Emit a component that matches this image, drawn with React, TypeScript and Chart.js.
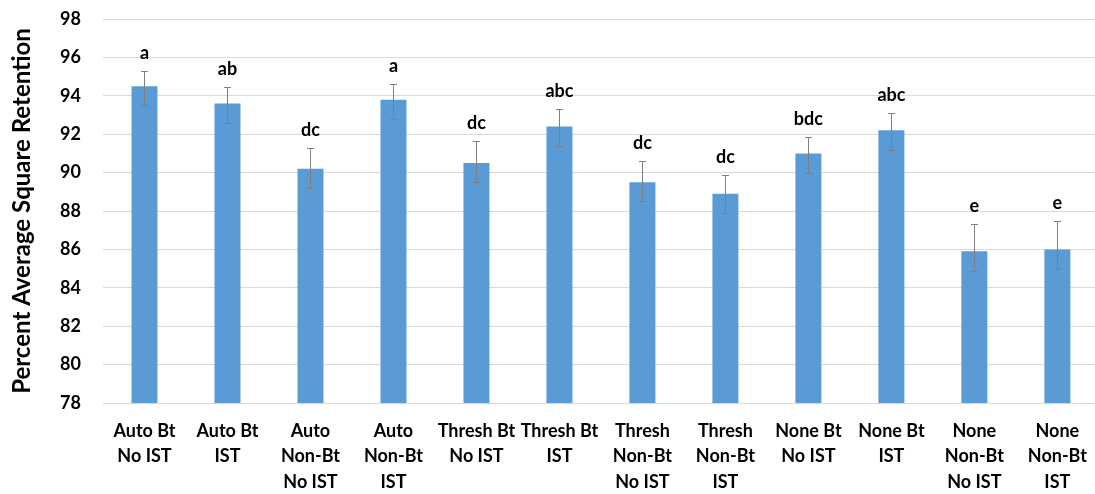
import React, { useEffect, useRef } from "react";
import { Chart, registerables } from "chart.js";

Chart.register(...registerables);

const categories: string[][] = [
  ["Auto Bt", "No IST"],
  ["Auto Bt", "IST"],
  ["Auto", "Non-Bt", "No IST"],
  ["Auto", "Non-Bt", "IST"],
  ["Thresh Bt", "No IST"],
  ["Thresh Bt", "IST"],
  ["Thresh", "Non-Bt", "No IST"],
  ["Thresh", "Non-Bt", "IST"],
  ["None Bt", "No IST"],
  ["None Bt", "IST"],
  ["None", "Non-Bt", "No IST"],
  ["None", "Non-Bt", "IST"],
];

const values = [94.5, 93.6, 90.2, 93.8, 90.5, 92.4, 89.5, 88.9, 91.0, 92.2, 85.9, 86.0];
const errorUp = [0.8, 0.87, 1.1, 0.82, 1.12, 0.9, 1.12, 1.0, 0.88, 0.93, 1.4, 1.5];
const errorDown = [1.0, 1.0, 1.0, 1.0, 1.0, 1.0, 1.0, 1.0, 1.0, 1.0, 1.0, 1.0];
const letters = ["a", "ab", "dc", "a", "dc", "abc", "dc", "dc", "bdc", "abc", "e", "e"];

const yMin = 78;
const yMax = 98;
const yStep = 2;
const yTitle = "Percent Average Square Retention";

const FONT = "Lato, 'Open Sans', sans-serif";
const WEIGHT = "bold";

const errorPlugin = {
  id: "errorBarsLetters",
  afterDatasetsDraw(chart: any) {
    const ctx = chart.ctx as CanvasRenderingContext2D;
    const meta = chart.getDatasetMeta(0);
    const y = chart.scales.y;
    ctx.save();
    meta.data.forEach((bar: any, i: number) => {
      const x = Math.round(bar.x) + 0.5;
      const top = Math.round(y.getPixelForValue(values[i] + errorUp[i])) + 0.5;
      const bot = Math.round(y.getPixelForValue(values[i] - errorDown[i])) + 0.5;
      ctx.strokeStyle = "#7f7f7f";
      ctx.lineWidth = 1;
      ctx.beginPath();
      ctx.moveTo(x, top);
      ctx.lineTo(x, bot);
      ctx.moveTo(x - 3.5, top);
      ctx.lineTo(x + 3.5, top);
      ctx.moveTo(x - 3.5, bot);
      ctx.lineTo(x + 3.5, bot);
      ctx.stroke();
      ctx.fillStyle = "#000";
      ctx.font = `${WEIGHT} 18px ${FONT}`;
      ctx.textAlign = "center";
      ctx.textBaseline = "alphabetic";
      ctx.fillText(letters[i], bar.x, top - 12.5);
    });
    ctx.restore();
  },
};

export default function App() {
  const ref = useRef<HTMLCanvasElement | null>(null);
  useEffect(() => {
    if (!ref.current) return;
    const chart = new Chart(ref.current, {
      type: "bar",
      data: {
        labels: categories,
        datasets: [
          {
            data: values,
            backgroundColor: "#5b9bd5",
            borderWidth: 0,
            categoryPercentage: 1,
            barPercentage: 0.313,
          },
        ],
      },
      options: {
        responsive: false,
        animation: false,
        devicePixelRatio: 1,
        layout: { padding: { top: 19, right: 2, left: 0, bottom: 0 } },
        plugins: {
          legend: { display: false },
          tooltip: { enabled: false },
        },
        scales: {
          x: {
            grid: { display: false, drawTicks: false },
            border: { display: true, color: "#d9d9d9", width: 1 },
            ticks: {
              autoSkip: false,
              maxRotation: 0,
              minRotation: 0,
              padding: 15,
              color: "#000",
              font: { family: FONT, size: 18, weight: WEIGHT, lineHeight: 1.42 },
            },
            afterFit: (scale: any) => {
              scale.height = 91;
            },
          },
          y: {
            min: yMin,
            max: yMax,
            grid: {
              color: "#d9d9d9",
              drawTicks: true,
              tickLength: 20,
              tickColor: "rgba(0,0,0,0)",
              lineWidth: 1,
            },
            border: { display: false },
            ticks: {
              stepSize: yStep,
              padding: 2,
              color: "#000",
              font: { family: FONT, size: 18, weight: WEIGHT },
            },
            title: {
              display: true,
              text: yTitle,
              color: "#000",
              font: { family: FONT, size: 24, weight: WEIGHT },
              padding: { top: 8, bottom: 0 },
            },
            afterFit: (scale: any) => {
              scale.width = 103;
            },
          },
        },
      },
      plugins: [errorPlugin],
    } as any);
    return () => chart.destroy();
  }, []);
  return (
    <div
      style={{
        position: "fixed",
        left: 0,
        top: 0,
        width: 1095,
        height: 494,
        overflow: "hidden",
        background: "#fff",
      }}
    >
      <canvas ref={ref} width={1102} height={494} style={{ display: "block" }} />
    </div>
  );
}
